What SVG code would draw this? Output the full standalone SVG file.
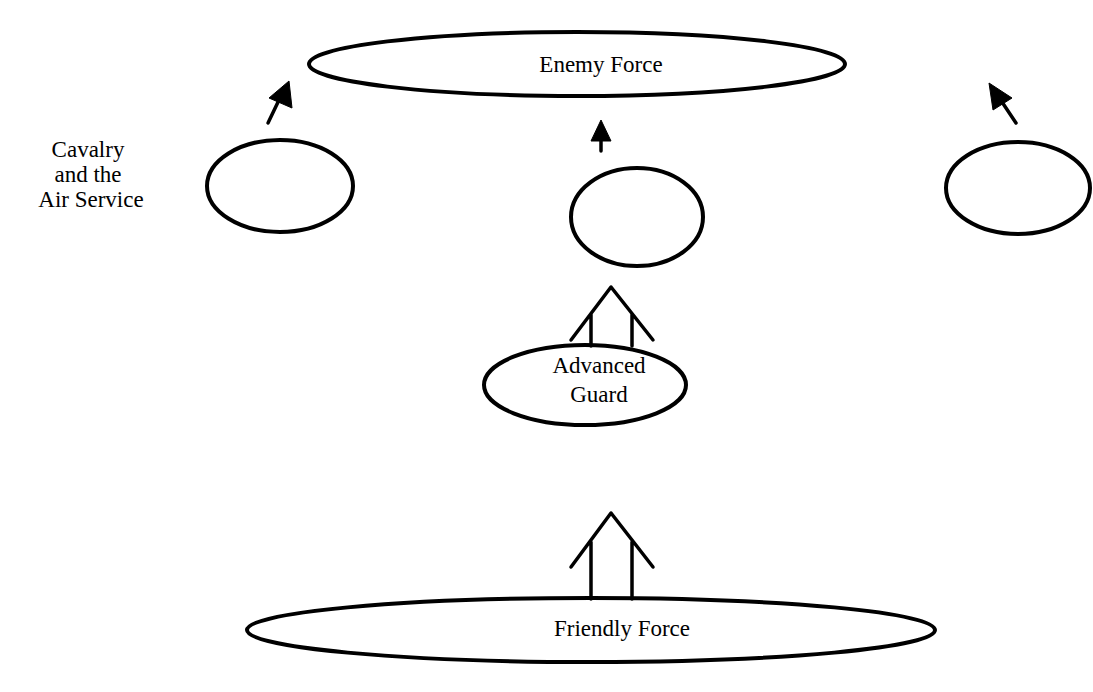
<svg xmlns="http://www.w3.org/2000/svg" width="1093" height="692" viewBox="0 0 1093 692">
<style>
.n{fill:#fff;stroke:#000;stroke-width:4}
.t{font-family:"Liberation Serif","Times New Roman",serif;font-size:23px;fill:#000;text-anchor:middle}
.c{fill:none;stroke:#000;stroke-width:3.5;stroke-linecap:round;stroke-linejoin:round}
.h{fill:#000;stroke:#000;stroke-width:1;stroke-linejoin:round}
</style>
<rect width="1093" height="692" fill="#fff"/>
<g id="enemy-force"><ellipse class="n" cx="577" cy="64" rx="268" ry="32"/><text class="t" x="601" y="72">Enemy Force</text></g>
<g id="cavalry-label"><text class="t" x="88" y="157">Cavalry</text><text class="t" x="88" y="182">and the</text><text class="t" x="91" y="207">Air Service</text></g>
<g id="left-unit"><ellipse class="n" cx="280" cy="186" rx="73" ry="46"/></g>
<g id="middle-unit"><ellipse class="n" cx="637" cy="217" rx="66" ry="49"/></g>
<g id="right-unit"><ellipse class="n" cx="1018" cy="188" rx="72" ry="46"/></g>
<g id="advanced-guard"><ellipse class="n" cx="585" cy="385" rx="101" ry="40"/><text class="t" x="599" y="373">Advanced</text><text class="t" x="599" y="402">Guard</text></g>
<g id="friendly-force"><ellipse class="n" cx="591" cy="630" rx="344" ry="32"/><text class="t" x="622" y="636">Friendly Force</text></g>
<g id="connectors">
<line class="c" x1="268" y1="123" x2="279" y2="100"/>
<polygon class="h" points="289,81 292,108 269,98"/>
<line class="c" x1="601" y1="151" x2="601" y2="135"/>
<polygon class="h" points="601,120 611,141 591,141"/>
<line class="c" x1="1016" y1="123" x2="1002" y2="102"/>
<polygon class="h" points="989,83 1012,98 993,110"/>
<path class="c" d="M571,340 L611,287 L653,340 M591,314 L591,346 M632,314 L632,346"/>
<path class="c" d="M571,567 L611,513 L653,567 M591,542 L591,599 M632,542 L632,599"/>
</g>
</svg>
